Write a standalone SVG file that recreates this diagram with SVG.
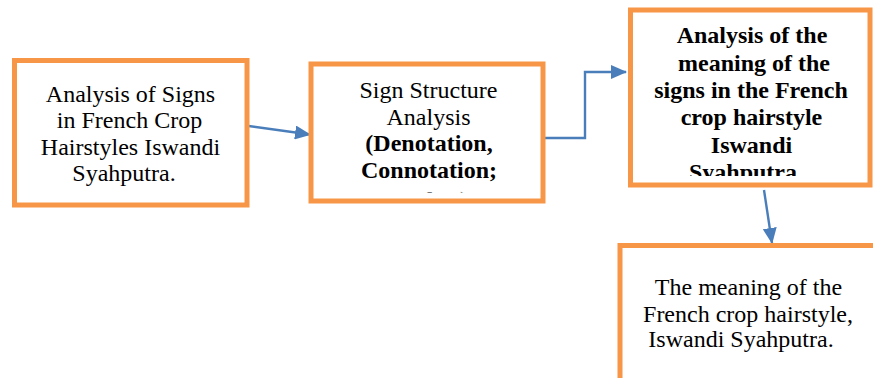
<svg xmlns="http://www.w3.org/2000/svg" width="873" height="378" viewBox="0 0 873 378">
  <style>
    .box { fill: #ffffff; stroke: #F79646; stroke-width: 5; }
    .t { font-family: "Liberation Serif", "Times New Roman", serif; font-size: 24px; fill: #000000; text-anchor: middle; }
    .b { font-weight: bold; }
    .conn { stroke: #4A7EBB; stroke-width: 2.4; fill: none; marker-end: url(#arrow); }
  </style>
  <defs>
    <marker id="arrow" markerUnits="userSpaceOnUse" markerWidth="16" markerHeight="14" refX="15" refY="7" orient="auto">
      <path d="M0,0 L16,7 L0,14 z" fill="#4A7EBB"/>
    </marker>
    <!-- text areas stop inside the box borders, so overflowing lines are cut off -->
    <clipPath id="clip-structure"><rect x="314" y="67" width="226" height="125.5"/></clipPath>
    <clipPath id="clip-meaning"><rect x="633" y="13" width="234" height="163"/></clipPath>
  </defs>

  <g id="connectors">
    <line class="conn" x1="245" y1="125.5" x2="310" y2="134.5"/>
    <path class="conn" d="M544,138 H585 V72 H626"/>
    <line class="conn" x1="764" y1="190" x2="772" y2="243"/>
  </g>

  <g id="node-signs">
    <rect class="box" x="14.5" y="60.5" width="232.5" height="144.5"/>
    <text class="t" x="130.5" y="101.5">Analysis of Signs</text>
    <text class="t" x="129.5" y="128">in French Crop</text>
    <text class="t" x="130.5" y="154.5">Hairstyles Iswandi</text>
    <text class="t" x="124" y="181">Syahputra.</text>
  </g>

  <g id="node-structure">
    <rect class="box" x="311" y="64" width="232" height="137"/>
    <g clip-path="url(#clip-structure)">
      <text class="t" x="428.5" y="98">Sign Structure</text>
      <text class="t" x="428.5" y="124.5">Analysis</text>
      <text class="t b" x="429" y="151">(Denotation,</text>
      <text class="t b" x="429" y="177.5">Connotation;</text>
      <text class="t b" x="424" y="208">Barthes)</text>
    </g>
  </g>

  <g id="node-meaning-analysis">
    <rect class="box" x="630.5" y="10" width="239.5" height="175"/>
    <g clip-path="url(#clip-meaning)">
      <text class="t b" x="752" y="43">Analysis of the</text>
      <text class="t b" x="754" y="70.5">meaning of the</text>
      <text class="t b" x="751" y="98">signs in the French</text>
      <text class="t b" x="751.5" y="125">crop hairstyle</text>
      <text class="t b" x="751.5" y="152.5">Iswandi</text>
      <text class="t b" x="746" y="180">Syahputra.</text>
    </g>
  </g>

  <g id="node-meaning">
    <rect class="box" x="620" y="245.5" width="256" height="200"/>
    <text class="t" x="748.5" y="295">The meaning of the</text>
    <text class="t" x="748" y="321.5">French crop hairstyle,</text>
    <text class="t" x="741" y="347">Iswandi Syahputra.</text>
  </g>
</svg>
